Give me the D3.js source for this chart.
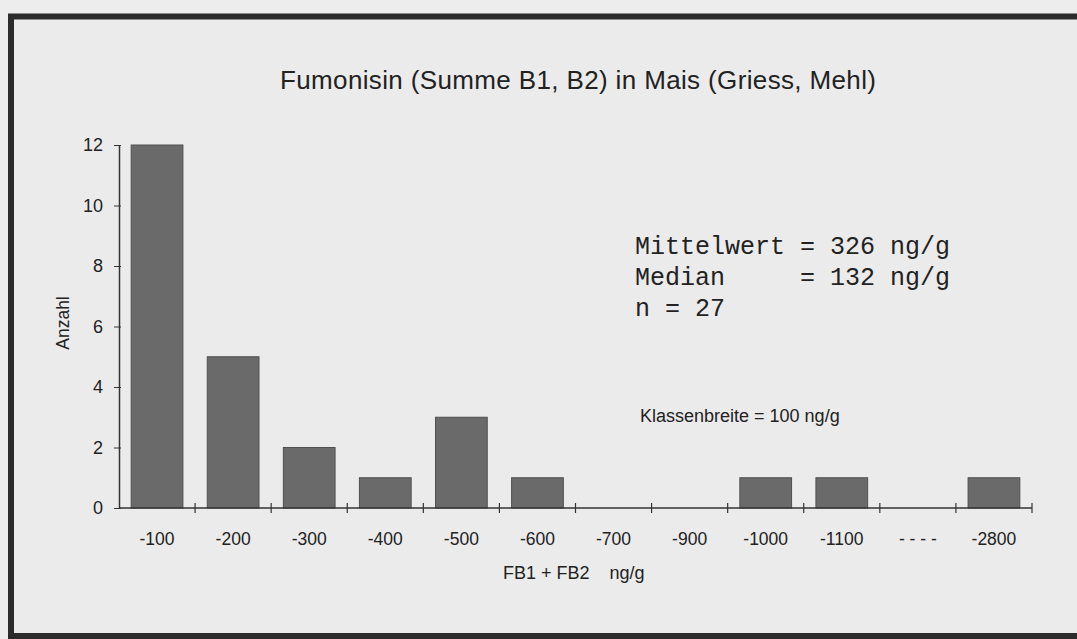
<!DOCTYPE html>
<html>
<head>
<meta charset="utf-8">
<script src="https://cdn.jsdelivr.net/npm/d3@7"></script>
<style>
  html, body { margin: 0; padding: 0; background: #ededed; }
  svg { display: block; }
</style>
</head>
<body>
<div id="root"></div>
<script>
const classes = ['-100', '-200', '-300', '-400', '-500', '-600', '-700', '-900', '-1000', '-1100', '- - - -', '-2800']
const counts = [12, 5, 2, 1, 3, 1, 0, 0, 1, 1, 0, 1]
const yTicks = [0, 2, 4, 6, 8, 10, 12]
const statLines = ['Mittelwert = 326 ng/g', 'Median     = 132 ng/g', 'n = 27']

const W = 1077, H = 639
const m = { left: 119, right: 1032, top: 145, bottom: 508 }
const sans = 'Liberation Sans, Arial, sans-serif'

const svg = d3.select('#root')
  .append('svg')
  .attr('width', W)
  .attr('height', H)

svg.append('rect')
  .attr('width', W).attr('height', H)
  .attr('fill', '#ededed')

// scanned frame
svg.append('rect')
  .attr('x', 11).attr('y', 16.5)
  .attr('width', W + 20).attr('height', 619.5)
  .attr('fill', '#ebebeb')
  .attr('stroke', '#2b2b2b')
  .attr('stroke-width', 6)

const x = d3.scaleBand()
  .domain(classes)
  .range([m.left, m.right])
  .paddingInner(0.32)
  .paddingOuter(0.16)

const y = d3.scaleLinear()
  .domain([0, 12])
  .range([m.bottom, m.top])

svg.append('g')
  .selectAll('rect')
  .data(classes.map((c, i) => ({ c, v: counts[i] })).filter(d => d.v > 0))
  .join('rect')
  .attr('x', d => x(d.c))
  .attr('y', d => y(d.v))
  .attr('width', x.bandwidth())
  .attr('height', d => y(0) - y(d.v))
  .attr('fill', '#6a6a6a')
  .attr('stroke', '#505050')
  .attr('stroke-width', 1)

// y axis
const yAxis = svg.append('g')
  .attr('transform', `translate(${m.left},0)`)
  .call(d3.axisLeft(y).tickValues(yTicks).tickSizeInner(5).tickSizeOuter(0).tickPadding(11))
yAxis.select('.domain').attr('stroke', '#333').attr('stroke-width', 1.5)
yAxis.selectAll('.tick line').attr('stroke', '#333').attr('x2', -5).attr('x1', 2)
yAxis.selectAll('.tick text')
  .attr('font-family', sans)
  .attr('font-size', 18)
  .attr('fill', '#222')

// x axis: line plus ticks between classes
const xAxis = svg.append('g')
xAxis.append('line')
  .attr('x1', m.left).attr('x2', m.right)
  .attr('y1', y(0)).attr('y2', y(0))
  .attr('stroke', '#333').attr('stroke-width', 1.5)
const step = x.step()
xAxis.selectAll('line.tk')
  .data(classes)
  .join('line')
  .attr('class', 'tk')
  .attr('x1', d => x(d) - x.paddingOuter() * step + step)
  .attr('x2', d => x(d) - x.paddingOuter() * step + step)
  .attr('y1', y(0) - 5).attr('y2', y(0) + 5)
  .attr('stroke', '#333').attr('stroke-width', 1.2)
xAxis.selectAll('text')
  .data(classes)
  .join('text')
  .attr('x', d => x(d) + x.bandwidth() / 2)
  .attr('y', 545)
  .attr('text-anchor', 'middle')
  .attr('font-family', sans)
  .attr('font-size', 17.5)
  .attr('fill', '#222')
  .text(d => d)

svg.append('text')
  .attr('x', 503).attr('y', 579)
  .attr('font-family', sans)
  .attr('font-size', 18)
  .attr('fill', '#222')
  .attr('xml:space', 'preserve')
  .style('white-space', 'pre')
  .text('FB1 + FB2    ng/g')

svg.append('text')
  .attr('transform', 'translate(69,323) rotate(-90)')
  .attr('text-anchor', 'middle')
  .attr('font-family', sans)
  .attr('font-size', 17.5)
  .attr('fill', '#222')
  .text('Anzahl')

svg.append('text')
  .attr('x', 280).attr('y', 89)
  .attr('font-family', sans)
  .attr('font-size', 26)
  .attr('textLength', 596)
  .attr('fill', '#222')
  .text('Fumonisin (Summe B1, B2) in Mais (Griess, Mehl)')

svg.append('g')
  .selectAll('text')
  .data(statLines)
  .join('text')
  .attr('x', 635)
  .attr('y', (d, i) => 254 + i * 31)
  .attr('font-family', 'Liberation Mono, Courier New, monospace')
  .attr('font-size', 25)
  .attr('fill', '#222')
  .attr('xml:space', 'preserve')
  .style('white-space', 'pre')
  .text(d => d)

svg.append('text')
  .attr('x', 640).attr('y', 422)
  .attr('font-family', sans)
  .attr('font-size', 18)
  .attr('fill', '#222')
  .text('Klassenbreite = 100 ng/g')
</script>
</body>
</html>
